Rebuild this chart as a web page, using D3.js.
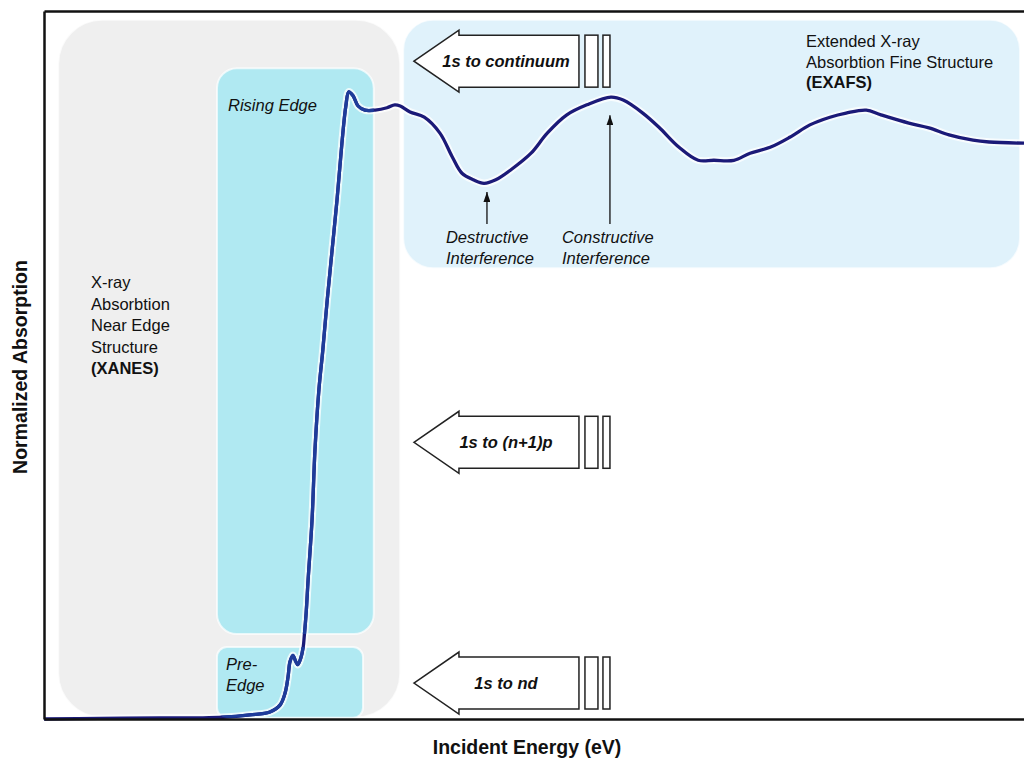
<!DOCTYPE html>
<html>
<head>
<meta charset="utf-8">
<script src="https://cdn.jsdelivr.net/npm/d3@7"></script>
<style>
  body { margin: 0; background: #fff; }
  svg { display: block; }
  text { font-family: "Liberation Sans", Arial, Helvetica, sans-serif; fill: #111; }
</style>
</head>
<body>
<div id="chart"></div>
<script>
// absorption spectrum, energy in eV (relative), absorption normalized
const energy = [0, 11.4, 23.7, 31.8, 36.5, 42.0, 46.1, 48.2, 49.2, 49.8, 50.2, 50.8, 51.4, 51.8, 52.4,
  52.9, 53.1, 53.5, 53.9, 54.7, 55.3, 56.1, 56.9, 57.8, 58.8, 59.8, 60.8, 61.6, 62.2, 63.1, 64.1,
  65.5, 67.6, 70.0, 71.6, 72.7, 74.7, 77.6, 80.8, 83.3, 85.3, 87.6, 89.8, 92.2, 95.3, 99.4, 102.7,
  106.7, 110.8, 115.7, 118.2, 122.2, 125.5, 129.6, 133.5, 136.7, 140.8, 144.1, 148.2, 152.2, 156.3,
  160.4, 163.7, 167.8, 170.8, 176.5, 180.6, 184.7, 189.6, 192.9, 200];
const absorption = [0.000, 0.001, 0.002, 0.002, 0.003, 0.007, 0.012, 0.024, 0.044, 0.071, 0.097, 0.108,
  0.097, 0.092, 0.103, 0.122, 0.139, 0.180, 0.236, 0.337, 0.456, 0.558, 0.625, 0.710, 0.795, 0.880,
  0.976, 1.039, 1.063, 1.056, 1.039, 1.032, 1.032, 1.036, 1.041, 1.039, 1.029, 1.020, 0.993, 0.953,
  0.925, 0.914, 0.908, 0.914, 0.931, 0.959, 0.993, 1.024, 1.041, 1.054, 1.049, 1.027, 1.003, 0.969,
  0.947, 0.947, 0.947, 0.959, 0.969, 0.986, 1.007, 1.020, 1.027, 1.032, 1.024, 1.010, 1.002, 0.990,
  0.981, 0.978, 0.976];

// spectral regions (energy / absorption extents)
const regionNames = ["XANES", "Rising Edge", "Pre-Edge", "EXAFS"];
const regionE0 = [2.9, 35.3, 35.3, 73.3];
const regionE1 = [72.7, 67.3, 65.1, 199.2];
const regionA0 = [0.003, 0.144, 0.002, 0.764];
const regionA1 = [1.185, 1.103, 0.122, 1.185];

// electronic transitions
const transitions = ["1s to continuum", "1s to (n+1)p", "1s to nd"];
const transitionLevel = [1.115, 0.469, 0.061];
const transitionEnergy = 75.5;

// interference markers
const interferenceNames = ["Destructive", "Constructive"];
const interferenceEnergy = [90.4, 115.5];
const interferenceValue = [0.90, 1.03];

const W = 1024, H = 758;
const x = d3.scaleLinear().domain([0, 200]).range([44, 1024]);
const y = d3.scaleLinear().domain([0, 1.2]).range([719, 11]);

const svg = d3.select("#chart").append("svg")
  .attr("width", W)
  .attr("height", H);

const fills = ["#efefef", "#b0e9f2", "#b0e9f2", "#e0f2fb"];
const radii = [44, 20, 10, 30];

const regions = regionNames.map((n, i) => ({
  name: n, e0: regionE0[i], e1: regionE1[i], a0: regionA0[i], a1: regionA1[i],
  fill: fills[i], r: radii[i]
}));

const defs = svg.append("defs");
const clip = defs.append("clipPath").attr("id", "cyanClip");
regions.filter(d => d.name === "Rising Edge" || d.name === "Pre-Edge").forEach(d => {
  clip.append("rect")
    .attr("x", x(d.e0)).attr("y", y(d.a1))
    .attr("width", x(d.e1) - x(d.e0)).attr("height", y(d.a0) - y(d.a1))
    .attr("rx", d.r);
});

defs.append("marker")
  .attr("id", "head")
  .attr("viewBox", "0 0 10 10")
  .attr("refX", 10).attr("refY", 5)
  .attr("markerWidth", 10).attr("markerHeight", 7)
  .attr("markerUnits", "userSpaceOnUse")
  .attr("orient", "auto")
  .attr("preserveAspectRatio", "none")
  .append("path")
  .attr("d", "M0,0 L10,5 L0,10 Z")
  .attr("fill", "#111");

svg.selectAll("rect.region")
  .data(regions)
  .join("rect")
  .attr("class", "region")
  .attr("x", d => x(d.e0))
  .attr("y", d => y(d.a1))
  .attr("width", d => x(d.e1) - x(d.e0))
  .attr("height", d => y(d.a0) - y(d.a1))
  .attr("rx", d => d.r)
  .attr("fill", d => d.fill)
  .attr("stroke", "#fff")
  .attr("stroke-opacity", 0.7)
  .attr("stroke-width", 2);

// region labels
const reg = Object.fromEntries(regions.map(d => [d.name, d]));

svg.append("text")
  .attr("x", x(reg["Rising Edge"].e0) + 11)
  .attr("y", 111)
  .attr("font-size", 16.5).attr("font-style", "italic")
  .text("Rising Edge");

svg.append("text")
  .attr("x", x(reg["Pre-Edge"].e0) + 9)
  .attr("font-size", 16.5).attr("font-style", "italic")
  .selectAll("tspan")
  .data(["Pre-", "Edge"])
  .join("tspan")
  .attr("x", x(reg["Pre-Edge"].e0) + 9)
  .attr("y", (d, i) => 670 + i * 21)
  .text(d => d);

const xanesLines = ["X-ray", "Absorbtion", "Near Edge", "Structure", "(XANES)"];
svg.append("g").selectAll("text")
  .data(xanesLines)
  .join("text")
  .attr("x", 91)
  .attr("y", (d, i) => 288 + i * 21.5)
  .attr("font-size", 16.5)
  .attr("font-weight", (d, i) => i === xanesLines.length - 1 ? "bold" : "normal")
  .text(d => d);

const exafsLines = ["Extended X-ray", "Absorbtion Fine Structure", "(EXAFS)"];
svg.append("g").selectAll("text")
  .data(exafsLines)
  .join("text")
  .attr("x", 806)
  .attr("y", (d, i) => 47 + i * 20.5)
  .attr("font-size", 16.5)
  .attr("font-weight", (d, i) => i === exafsLines.length - 1 ? "bold" : "normal")
  .text(d => d);

// transition arrows
const tx = x(transitionEnergy);
const arrowPath = cy => `M${tx},${cy} L${tx + 45},${cy - 31} L${tx + 45},${cy - 26} L${tx + 165},${cy - 26}
  L${tx + 165},${cy + 26} L${tx + 45},${cy + 26} L${tx + 45},${cy + 31} Z`;

const tg = svg.append("g").selectAll("g")
  .data(transitions.map((t, i) => ({ label: t, level: transitionLevel[i] })))
  .join("g");

tg.append("path")
  .attr("d", d => arrowPath(y(d.level)))
  .attr("fill", "#fff")
  .attr("stroke", "#222")
  .attr("stroke-width", 1.5)
  .attr("stroke-linejoin", "miter");

tg.append("rect")
  .attr("x", tx + 171).attr("y", d => y(d.level) - 26)
  .attr("width", 13).attr("height", 52)
  .attr("fill", "#fff").attr("stroke", "#222").attr("stroke-width", 1.5);

tg.append("rect")
  .attr("x", tx + 189).attr("y", d => y(d.level) - 26)
  .attr("width", 7).attr("height", 52)
  .attr("fill", "#fff").attr("stroke", "#222").attr("stroke-width", 1.5);

tg.append("text")
  .attr("x", tx + 92)
  .attr("y", d => y(d.level) + 6)
  .attr("text-anchor", "middle")
  .attr("font-size", 16.5)
  .attr("font-weight", "bold")
  .attr("font-style", "italic")
  .text(d => d.label);

// spectrum
const line = d3.line()
  .x(d => x(d[0]))
  .y(d => y(d[1]))
  .curve(d3.curveCatmullRom.alpha(0.5));
const pts = energy.map((e, i) => [e, absorption[i]]);

svg.append("path")
  .attr("d", line(pts))
  .attr("fill", "none")
  .attr("stroke", "#fff")
  .attr("stroke-opacity", 0.75)
  .attr("stroke-width", 7.5)
  .attr("stroke-linejoin", "round");

svg.append("path")
  .attr("d", line(pts))
  .attr("fill", "none")
  .attr("stroke", "#1b1a78")
  .attr("stroke-width", 3.3)
  .attr("stroke-linejoin", "round");

svg.append("path")
  .attr("d", line(pts))
  .attr("clip-path", "url(#cyanClip)")
  .attr("fill", "none")
  .attr("stroke", "#1e3c9a")
  .attr("stroke-width", 3.3)
  .attr("stroke-linejoin", "round");

// interference markers
const ig = svg.append("g").selectAll("g")
  .data(interferenceNames.map((n, i) => ({ name: n, e: interferenceEnergy[i], v: interferenceValue[i] })))
  .join("g");

ig.append("line")
  .attr("x1", d => x(d.e)).attr("x2", d => x(d.e))
  .attr("y1", 224)
  .attr("y2", d => y(d.v) + 4)
  .attr("stroke", "#111")
  .attr("stroke-width", 1.3)
  .attr("marker-end", "url(#head)");

ig.append("text")
  .attr("font-size", 16.5)
  .attr("font-style", "italic")
  .selectAll("tspan")
  .data(d => [[d, d.name], [d, "Interference"]])
  .join("tspan")
  .attr("x", d => x(d[0].e) - (d[0].name === "Destructive" ? 41 : 48))
  .attr("y", (d, i) => 243 + i * 21)
  .text(d => d[1]);

// frame
const frame = svg.append("g").attr("class", "frame");
frame.append("g").attr("transform", `translate(0,${y(0)})`)
  .call(d3.axisBottom(x).ticks(0).tickSizeOuter(0));
frame.append("g").attr("transform", `translate(0,${y(1.2)})`)
  .call(d3.axisTop(x).ticks(0).tickSizeOuter(0));
frame.append("g").attr("transform", `translate(${x(0)},0)`)
  .call(d3.axisLeft(y).ticks(0).tickSizeOuter(0));
frame.selectAll(".domain")
  .attr("stroke", "#111")
  .attr("stroke-width", 2.5);

// axis titles
svg.append("text")
  .attr("x", 527).attr("y", 754)
  .attr("text-anchor", "middle")
  .attr("font-size", 19.5).attr("font-weight", "bold")
  .text("Incident Energy (eV)");

svg.append("text")
  .attr("transform", "translate(27,367) rotate(-90)")
  .attr("text-anchor", "middle")
  .attr("font-size", 19.5).attr("font-weight", "bold")
  .text("Normalized Absorption");
</script>
</body>
</html>
